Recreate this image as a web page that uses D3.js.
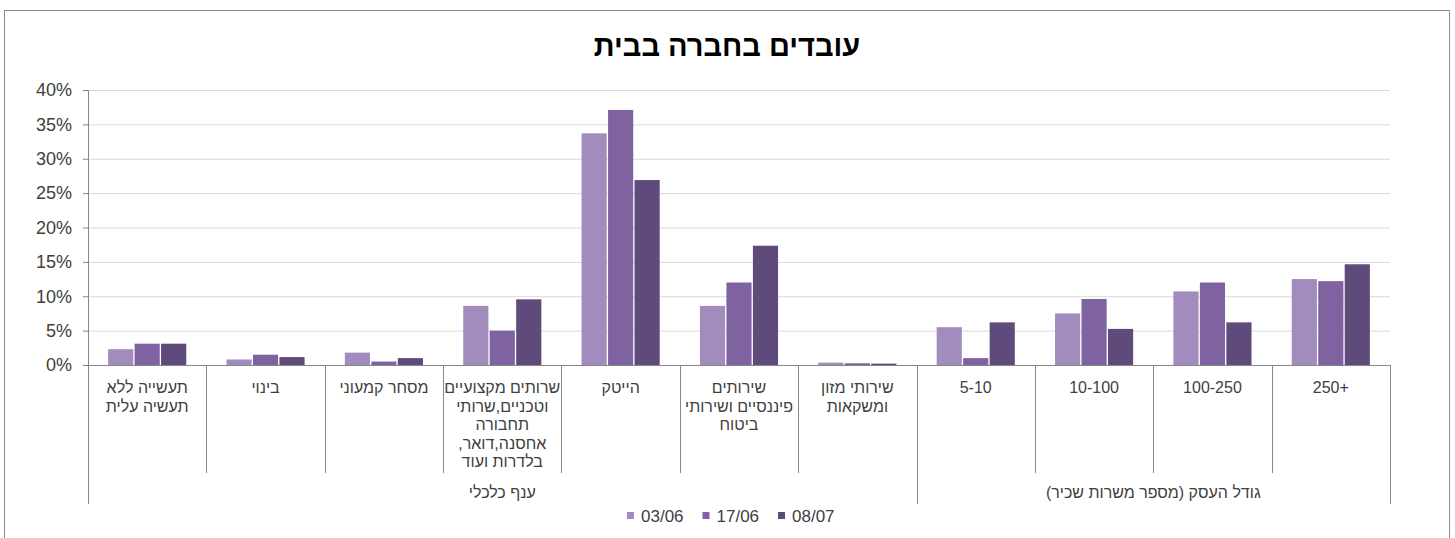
<!DOCTYPE html>
<html lang="he">
<head>
  <meta charset="UTF-8">
  <title>עובדים בחברה בבית</title>
  <style>
    body {
      margin: 0;
      background: #fff;
      font-family: "Liberation Sans", Arial, sans-serif;
    }
    svg {
      display: block;
    }
    .grid line {
      stroke: #d9d9d9;
    }
    .axis text {
      fill: #404040;
      font-size: 18px;
    }
  </style>
</head>
<body>
  <svg id="chart" width="1455" height="538"></svg>

  <script src="https://d3js.org/d3.v7.min.js"></script>
  <script>
    // categories, label lines as shown in the chart
    const categoryLabels = [
      ["תעשייה ללא", "תעשיה עלית"],
      ["בינוי"],
      ["מסחר קמעוני"],
      ["שרותים מקצועיים", "וטכניים,שרותי", "תחבורה", "אחסנה,דואר,", "בלדרות ועוד"],
      ["הייטק"],
      ["שירותים", "פיננסיים ושירותי", "ביטוח"],
      ["שירותי מזון", "ומשקאות"],
      ["5-10"],
      ["10-100"],
      ["100-250"],
      ["+250"]
    ];
    const groupNames = ["ענף כלכלי", "גודל העסק (מספר משרות שכיר)"];
    const groupSizes = [7, 4];

    const seriesNames = ["03/06", "17/06", "08/07"];
    const values0306 = [2.3, 0.8, 1.8, 8.6, 33.7, 8.6, 0.35, 5.5, 7.5, 10.7, 12.5];
    const values1706 = [3.1, 1.5, 0.5, 5.0, 37.1, 12.0, 0.25, 1.0, 9.6, 12.0, 12.2];
    const values0807 = [3.1, 1.15, 1.0, 9.55, 26.9, 17.35, 0.2, 6.2, 5.25, 6.2, 14.65];
    const yTicks = [0, 5, 10, 15, 20, 25, 30, 35, 40];

    const colors = ["#a28cbd", "#7f63a1", "#5f4a7c"];
    const allValues = [values0306, values1706, values0807];

    const svg = d3.select("#chart");

    // outer chart frame
    svg.append("rect")
      .attr("x", 4.5).attr("y", 10.5)
      .attr("width", 1445).attr("height", 540)
      .attr("fill", "none")
      .attr("stroke", "#8c8c8c");

    const plotLeft = 88, plotRight = 1390, plotTop = 90, plotBottom = 365;

    const idx = d3.range(categoryLabels.length);
    const x = d3.scaleBand()
      .domain(idx)
      .range([plotLeft, plotRight])
      .paddingInner(0.34)
      .paddingOuter(0.17);

    const x1 = d3.scaleBand()
      .domain(d3.range(seriesNames.length))
      .range([0, x.bandwidth()])
      .paddingInner(0.05);

    const y = d3.scaleLinear().domain([0, 40]).range([plotBottom, plotTop]);

    // gridlines
    svg.append("g")
      .attr("class", "grid")
      .attr("transform", `translate(${plotLeft},0)`)
      .call(d3.axisLeft(y).tickValues(yTicks.slice(1)).tickSize(-(plotRight - plotLeft)).tickFormat(""))
      .call(g => g.select(".domain").remove());

    // y axis
    svg.append("g")
      .attr("class", "axis")
      .attr("transform", `translate(${plotLeft},0)`)
      .call(d3.axisLeft(y).tickValues(yTicks).tickSize(5).tickPadding(11).tickFormat(d => d + "%"))
      .call(g => g.selectAll("line, path").attr("stroke", "#868686"))
      .call(g => g.selectAll("text").attr("font-size", null).attr("font-family", null));

    // bars
    const data = idx.map(i => seriesNames.map((s, j) => ({ i, j, v: allValues[j][i] })));
    svg.append("g")
      .selectAll("g")
      .data(data)
      .join("g")
      .attr("transform", d => `translate(${x(d[0].i)},0)`)
      .selectAll("rect")
      .data(d => d)
      .join("rect")
      .attr("x", d => x1(d.j))
      .attr("width", x1.bandwidth())
      .attr("y", d => y(d.v))
      .attr("height", d => y(0) - y(d.v))
      .attr("fill", d => colors[d.j]);

    // category axis
    const step = x.step();
    const boundary = i => plotLeft + i * step;

    svg.append("line")
      .attr("x1", plotLeft).attr("x2", plotRight)
      .attr("y1", plotBottom + 0.5).attr("y2", plotBottom + 0.5)
      .attr("stroke", "#868686");

    const groupEdges = [0];
    groupSizes.forEach(n => groupEdges.push(groupEdges[groupEdges.length - 1] + n));

    d3.range(categoryLabels.length + 1).forEach(i => {
      const isGroup = groupEdges.includes(i);
      svg.append("line")
        .attr("x1", Math.round(boundary(i)) + 0.5)
        .attr("x2", Math.round(boundary(i)) + 0.5)
        .attr("y1", plotBottom)
        .attr("y2", isGroup ? 504 : 473)
        .attr("stroke", "#868686");
    });

    const catText = svg.append("g")
      .selectAll("text")
      .data(categoryLabels)
      .join("text")
      .attr("direction", "rtl")
      .attr("text-anchor", "middle")
      .attr("font-size", 16)
      .attr("fill", "#404040");

    catText.each(function (lines, i) {
      const cx = x(i) + x.bandwidth() / 2;
      d3.select(this).selectAll("tspan")
        .data(lines)
        .join("tspan")
        .attr("x", cx)
        .attr("y", (d, k) => 393 + k * 18.5)
        .text(d => d);
    });

    svg.append("g")
      .selectAll("text")
      .data(groupNames)
      .join("text")
      .attr("direction", "rtl")
      .attr("text-anchor", "middle")
      .attr("font-size", 16)
      .attr("fill", "#404040")
      .attr("x", (d, g) => (boundary(groupEdges[g]) + boundary(groupEdges[g + 1])) / 2)
      .attr("y", 498)
      .text(d => d);

    // title
    svg.append("text")
      .attr("direction", "rtl")
      .attr("x", 727)
      .attr("y", 56)
      .attr("text-anchor", "middle")
      .attr("font-size", 29)
      .attr("font-weight", "bold")
      .attr("fill", "#000")
      .text("עובדים בחברה בבית");

    // legend
    const legend = svg.append("g")
      .selectAll("g")
      .data(seriesNames)
      .join("g")
      .attr("transform", (d, j) => `translate(${627 + j * 75.5},0)`);

    legend.append("rect")
      .attr("x", 0).attr("y", 512)
      .attr("width", 7).attr("height", 7)
      .attr("fill", (d, j) => colors[j]);

    legend.append("text")
      .attr("x", 14)
      .attr("y", 522)
      .attr("font-size", 17)
      .attr("fill", "#404040")
      .text(d => d);
  </script>
</body>
</html>
